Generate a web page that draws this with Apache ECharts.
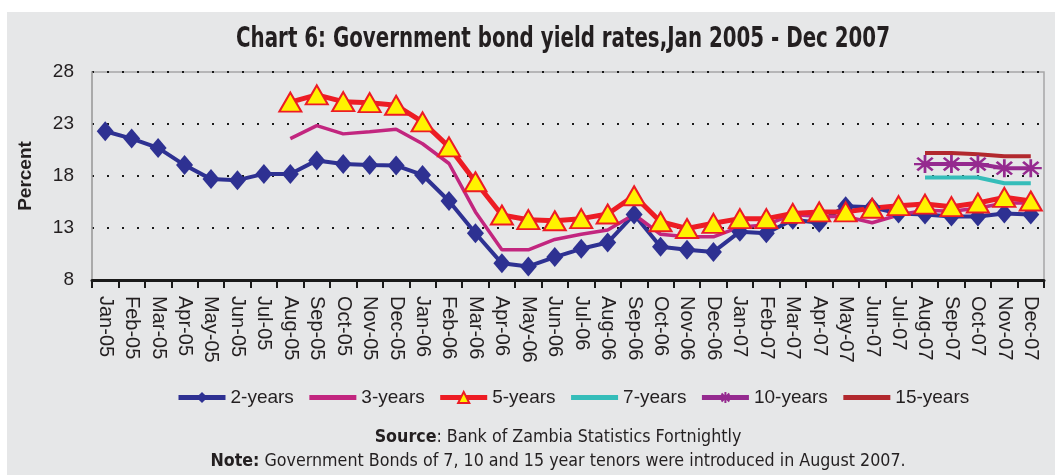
<!DOCTYPE html>
<html>
<head>
<meta charset="utf-8">
<script src="https://cdn.jsdelivr.net/npm/echarts@6/dist/echarts.min.js"></script>
<style>
  html, body { margin: 0; padding: 0; background: #ffffff; }
  #chart { width: 1055px; height: 475px; }
</style>
</head>
<body>
<div id="chart"></div>
<script>
// Monthly categories, Jan 2005 - Dec 2007
const months = [
  'Jan-05','Feb-05','Mar-05','Apr-05','May-05','Jun-05','Jul-05','Aug-05','Sep-05','Oct-05','Nov-05','Dec-05',
  'Jan-06','Feb-06','Mar-06','Apr-06','May-06','Jun-06','Jul-06','Aug-06','Sep-06','Oct-06','Nov-06','Dec-06',
  'Jan-07','Feb-07','Mar-07','Apr-07','May-07','Jun-07','Jul-07','Aug-07','Sep-07','Oct-07','Nov-07','Dec-07'
];

// Yields in percent (null = tenor not yet issued)
const yield2 = [
  22.3, 21.6, 20.7, 19.05, 17.7, 17.6, 18.2, 18.2, 19.5, 19.15, 19.05, 19.0,
  18.1, 15.6, 12.5, 9.6, 9.3, 10.2, 11.0, 11.6, 14.3, 11.2, 10.9, 10.7,
  12.65, 12.5, 13.8, 13.5, 15.1, 15.0, 14.4, 14.3, 14.1, 14.1, 14.4, 14.3
];
const yield3 = [
  null, null, null, null, null, null, null, 21.6, 22.85, 22.05, 22.25, 22.5,
  21.1, 19.2, 14.55, 10.9, 10.9, 11.9, 12.4, 12.8, 14.3, 12.4, 12.15, 12.15,
  13.1, 13.3, 14.3, 14.1, 14.1, 13.5, 14.25, 14.7, 14.6, 14.9, 15.4, 15.4
];
const yield5 = [
  null, null, null, null, null, null, null, 25.1, 25.8, 25.15, 25.05, 24.8,
  23.2, 20.8, 17.45, 14.25, 13.8, 13.7, 13.9, 14.35, 16.1, 13.6, 12.95, 13.45,
  13.9, 13.9, 14.4, 14.55, 14.55, 14.9, 15.15, 15.3, 15.05, 15.4, 15.95, 15.6
];
const yield7 = [
  null, null, null, null, null, null, null, null, null, null, null, null,
  null, null, null, null, null, null, null, null, null, null, null, null,
  null, null, null, null, null, null, null, 17.85, 17.85, 17.85, 17.3, 17.3
];
const yield10 = [
  null, null, null, null, null, null, null, null, null, null, null, null,
  null, null, null, null, null, null, null, null, null, null, null, null,
  null, null, null, null, null, null, null, 19.15, 19.15, 19.15, 18.75, 18.75
];
const yield15 = [
  null, null, null, null, null, null, null, null, null, null, null, null,
  null, null, null, null, null, null, null, null, null, null, null, null,
  null, null, null, null, null, null, null, 20.2, 20.2, 20.1, 19.9, 19.9
];
const yTicks = { min: 8, max: 28, step: 5 };

const TXT = '#231f20';
const NARROW = '"DejaVu Sans Condensed", "Liberation Sans", sans-serif';
const ARIAL = '"Liberation Sans", Arial, sans-serif';
const ASTERISK = 'path://M0,10 L20,10 M10,0 L10,20 M3,3 L17,17 M17,3 L3,17';

// line-only series: hide the marker that the legend would otherwise add
const plainLegend = name => ({ name: name, itemStyle: { opacity: 0 } });

const chart = echarts.init(document.getElementById('chart'), null, { renderer: 'canvas' });

chart.setOption({
  animation: false,
  backgroundColor: '#ffffff',
  graphic: [
    { type: 'rect', left: 7, top: 12, z: -10, silent: true,
      shape: { width: 1048, height: 463 }, style: { fill: '#e6e7e8' } },
    { type: 'text', x: 563, y: 39, scaleX: 0.76, z: 10,
      style: { text: 'Chart 6: Government bond yield rates,Jan 2005 - Dec 2007',
        font: 'bold 29px ' + NARROW, fill: TXT, align: 'center', verticalAlign: 'middle' } },
    { type: 'text', x: 558, y: 437, z: 10,
      style: { text: '{b|Source}: Bank of Zambia Statistics Fortnightly', font: '17.7px ' + NARROW, fill: TXT,
        align: 'center', verticalAlign: 'middle',
        rich: { b: { fontWeight: 'bold', fontSize: 17.7, fontFamily: NARROW, fill: TXT } } } },
    { type: 'text', x: 558, y: 461, z: 10,
      style: { text: '{b|Note:} Government Bonds of 7, 10 and 15 year tenors were introduced in August 2007.', font: '17.7px ' + NARROW, fill: TXT,
        align: 'center', verticalAlign: 'middle',
        rich: { b: { fontWeight: 'bold', fontSize: 17.7, fontFamily: NARROW, fill: TXT } } } }
  ],
  legend: {
    left: 176, top: 388, padding: 0,
    itemWidth: 47, itemHeight: 14, itemGap: 13,
    lineStyle: { width: 5 },
    textStyle: { fontFamily: ARIAL, fontSize: 19, color: TXT },
    data: ['2-years', plainLegend('3-years'), '5-years', plainLegend('7-years'), '10-years', plainLegend('15-years')]
  },
  grid: {
    left: 92, right: 11, top: 72, bottom: 195,
    show: true, borderColor: '#a6a6a6', borderWidth: 1.5, backgroundColor: 'transparent'
  },
  xAxis: {
    type: 'category', data: months, boundaryGap: true,
    axisLine: { lineStyle: { color: '#1a1a1a', width: 3 } },
    axisTick: { show: true, interval: 0, length: 8, lineStyle: { color: '#1a1a1a', width: 2 } },
    axisLabel: { interval: 0, rotate: -90, margin: 16, fontFamily: ARIAL, fontSize: 20, color: TXT }
  },
  yAxis: {
    type: 'value', min: yTicks.min, max: yTicks.max, interval: yTicks.step,
    name: 'Percent', nameLocation: 'middle', nameRotate: 90, nameGap: 57,
    nameTextStyle: { fontFamily: ARIAL, fontWeight: 'bold', fontSize: 19, color: TXT },
    axisLine: { show: true, lineStyle: { color: '#a6a6a6', width: 1.5 } },
    axisTick: { show: false },
    axisLabel: { margin: 18, fontFamily: ARIAL, fontSize: 19, color: TXT },
    splitLine: { show: true, lineStyle: { color: '#1a1a1a', width: 2.2, type: [2, 13] } }
  },
  series: [
    { name: '2-years', type: 'line', data: yield2, symbol: 'diamond', symbolSize: [17, 20],
      lineStyle: { color: '#2e3192', width: 4 }, itemStyle: { color: '#2e3192' } },
    { name: '3-years', type: 'line', data: yield3, symbol: 'none', showSymbol: false,
      lineStyle: { color: '#c2267f', width: 3.5 }, itemStyle: { color: '#c2267f' } },
    { name: '5-years', type: 'line', data: yield5, symbol: 'triangle', symbolSize: [22, 19],
      lineStyle: { color: '#ed1c24', width: 5 },
      itemStyle: { color: '#fff200', borderColor: '#ed1c24', borderWidth: 2 } },
    { name: '7-years', type: 'line', data: yield7, symbol: 'none', showSymbol: false,
      lineStyle: { color: '#35bdb9', width: 4 }, itemStyle: { color: '#35bdb9' } },
    { name: '10-years', type: 'line', data: yield10, symbol: ASTERISK, symbolSize: [22, 18],
      lineStyle: { color: '#952a8f', width: 4 },
      itemStyle: { color: '#952a8f', borderColor: '#952a8f', borderWidth: 2.5 } },
    { name: '15-years', type: 'line', data: yield15, symbol: 'none', showSymbol: false,
      lineStyle: { color: '#b2292e', width: 4 }, itemStyle: { color: '#b2292e' } }
  ]
});
</script>
</body>
</html>
